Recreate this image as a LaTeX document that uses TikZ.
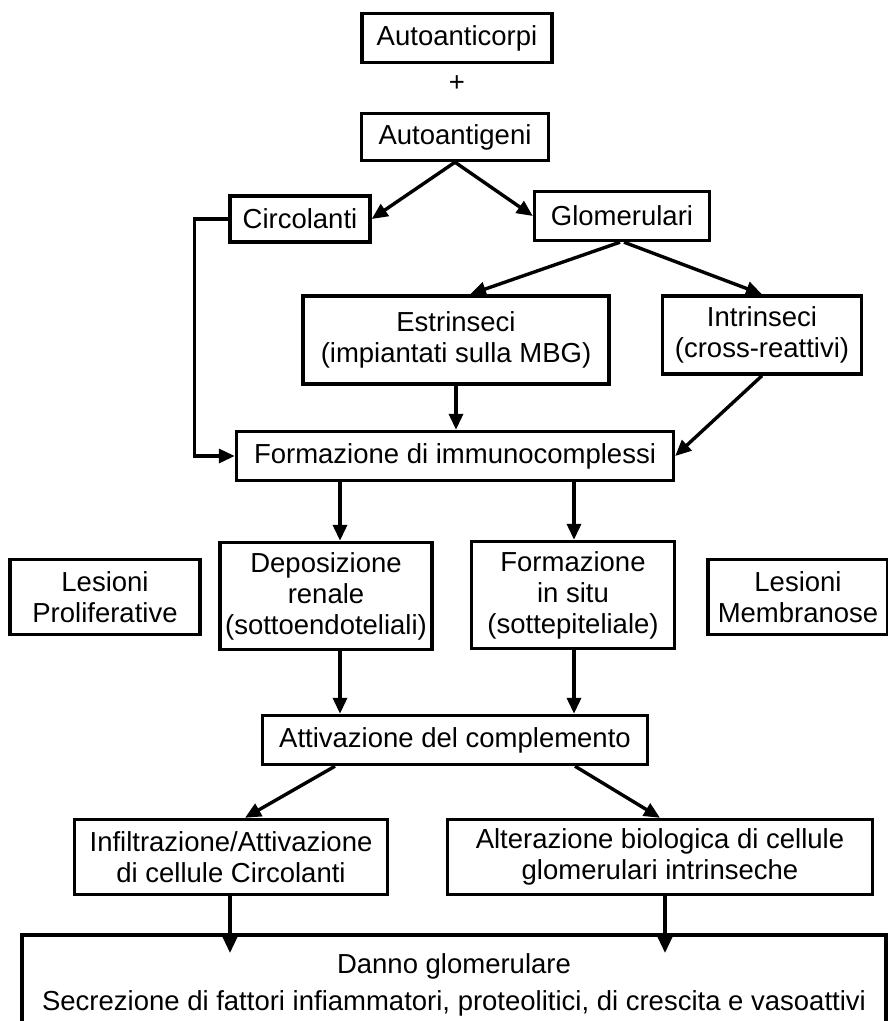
\documentclass[tikz,border=0pt]{standalone}
\usepackage{fontspec}
\setmainfont{Liberation Sans}
\usetikzlibrary{arrows.meta,calc}
\begin{document}
\begin{tikzpicture}[x=1pt,y=-1pt,
  box/.style={draw,line width=3.4pt,align=center,inner sep=0pt,
    font=\fontsize{27.5}{31}\selectfont},
  arr/.style={line width=3.4pt,-{Triangle[length=16pt,width=14pt]}}]
\useasboundingbox (0,0) rectangle (888,1021);
\clip (0,0) rectangle (888,1021);
\fill[white] (0,0) rectangle (888,1021);
\node[box,minimum width=190pt,minimum height=49pt] (auc) at (457,38) {Autoanticorpi};
\node[font=\fontsize{27.5}{31}\selectfont] (plus) at (457,84) {+};
\node[box,minimum width=187pt,minimum height=47pt] (aag) at (455,137) {Autoantigeni};
\node[box,minimum width=140pt,minimum height=46pt] (circ) at (300,219) {Circolanti};
\node[box,minimum width=175pt,minimum height=49pt] (glom) at (622,216) {Glomerulari};
\node[box,minimum width=306pt,minimum height=88pt] (estr) at (456,340) {Estrinseci\\(impiantati sulla MBG)};
\node[box,minimum width=199pt,minimum height=78pt] (intr) at (762,335) {Intrinseci\\(cross-reattivi)};
\node[box,minimum width=437pt,minimum height=49pt] (form) at (455,456) {Formazione di immunocomplessi};
\node[box,minimum width=190pt,minimum height=75pt] (lesp) at (105,597) {Lesioni\\Proliferative};
\node[box,minimum width=212pt,minimum height=107pt] (depo) at (326,596) {Deposizione\\renale\\(sottoendoteliali)};
\node[box,minimum width=203pt,minimum height=107pt] (situ) at (573,595) {Formazione\\in situ\\(sottepiteliale)};
\node[box,minimum width=180pt,minimum height=75pt] (lesm) at (798,597) {Lesioni\\Membranose};
\node[box,minimum width=385pt,minimum height=49pt] (att) at (455,740) {Attivazione del complemento};
\node[box,minimum width=313pt,minimum height=75pt] (inf) at (231,857) {Infiltrazione/Attivazione\\di cellule Circolanti};
\node[box,minimum width=425pt,minimum height=75pt] (alt) at (660,857) {Alterazione biologica di cellule\\glomerulari intrinseche};
\node[box,minimum width=864pt,minimum height=100pt] (danno) at (454,985) {Danno glomerulare\\[6pt]Secrezione di fattori infiammatori, proteolitici, di crescita e vasoattivi};
\coordinate (xl) at (340,0);
\coordinate (xr) at (574,0);
\draw[arr] (aag.south) -- (circ.east);
\draw[arr] (aag.south) -- (glom.west);
\draw[arr] (circ.west) -- ++(-34,0) |- (form.west);
\draw[arr] ($(glom.south)+(-2,0)$) -- ($(estr.north)+(14,0)$);
\draw[arr] ($(glom.south)+(2,0)$) -- (intr.north);
\draw[arr] (estr.south) -- (estr.south |- form.north);
\draw[arr] (intr.south) -- (form.east);
\draw[arr] (form.south -| xl) -- (depo.north -| xl);
\draw[arr] (form.south -| xr) -- (situ.north -| xr);
\draw[arr] (depo.south -| xl) -- (att.north -| xl);
\draw[arr] (situ.south -| xr) -- (att.north -| xr);
\draw[arr] ($(att.south)+(-120,0)$) -- ($(inf.north)+(14,0)$);
\draw[arr] ($(att.south)+(120,0)$) -- (inf.north -| alt.north);
\coordinate (dl) at (230,953);
\coordinate (dr) at (665,953);
\draw[arr] (inf.south -| dl) -- (dl);
\draw[arr] (alt.south -| dr) -- (dr);
\end{tikzpicture}
\end{document}
